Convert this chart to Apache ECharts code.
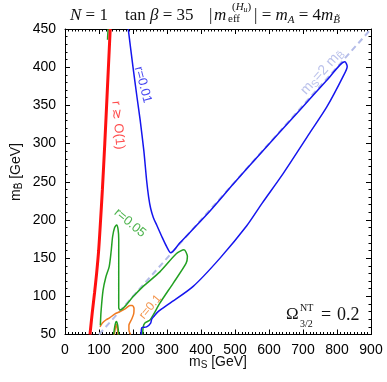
<!DOCTYPE html>
<html><head><meta charset="utf-8">
<script src="https://cdn.jsdelivr.net/npm/echarts@6/dist/echarts.min.js"></script>
<style>html,body{margin:0;padding:0;background:#fff}#c{width:387px;height:382px}</style>
</head><body><div id="c"></div>
<script>
// ---- data (GeV) ----
const xTicks=[0,100,200,300,400,500,600,700,800,900];
const yTicks=[50,100,150,200,250,300,350,400,450];

const redBoundary=[[73.5,50],[80,78],[87,105],[93,130],[99,160],[104,195],[110,240],[117,300],[124.5,370],[133,450]];
const greenEdge=[[125,436],[126.8,450]];
const r001=[[186,450],[200,400],[212,360],[221,331],[232,290],[240,252],[246,230],[252,215],[260,203],[270,193],[285,178],[299,165],[311,157],[338,170],[417,207],[495,247],[573,286],[691,344],[770,383],[809,403],[823,407],[830,401],[818,388],[770,348],[720,314],[642,261],[580,222],[534,192],[456,150],[377,113],[309,91],[274,80],[262,74],[255,70],[252,65],[240,60],[226,59],[224,50]];
const r005=[[104,62],[106,80],[112,108],[120,125],[130,139],[136,160],[140,178],[146,190],[152,193.5],[156,188],[158,175],[158,120],[158,85],[162,82],[201,100],[230,113],[279,132],[328,156],[350,161],[360,152],[356,143],[318,117],[279,91],[260,76],[250,69],[235,65],[230,60],[228.5,50]];
const r005b=[[143,50],[147,62],[151,67],[155,62],[158,50]];
const r01=[[103,60],[110,65],[120,69],[132,72],[147,77],[162,80],[178,84],[191,88],[198,88],[203,84],[202,77],[196,70],[188,62],[188,56],[193,50]];
const r01b=[[145,50],[149,60],[151,63],[154,58],[156,50]];
const ms2mb=[[100,50],[900,450]];

const SANS='Liberation Sans, Arial, sans-serif';
const SERIF='Liberation Serif, Times New Roman, serif';

const chart=echarts.init(document.getElementById('c'),null,{renderer:'canvas'});

function axisCommon(showLabel){
  return {
    type:'value',
    axisLine:{show:true,onZero:false,lineStyle:{color:'#000',width:1}},
    axisTick:{show:true,inside:true,length:5,lineStyle:{color:'#000',width:1}},
    minorTick:{show:true,length:2.5,lineStyle:{color:'#000',width:1}},
    splitLine:{show:false},
    axisLabel:{show:showLabel,color:'#000',fontSize:14,fontFamily:SANS}
  };
}
const xMin=xTicks[0], xMax=xTicks[xTicks.length-1], xInt=xTicks[1]-xTicks[0];
const yMin=yTicks[0], yMax=yTicks[yTicks.length-1], yInt=yTicks[1]-yTicks[0];

const xA=[
  Object.assign(axisCommon(true),{position:'bottom',min:xMin,max:xMax,interval:xInt}),
  Object.assign(axisCommon(false),{position:'top',min:xMin,max:xMax,interval:xInt})
];
xA[0].axisLabel.margin=9; xA[0].minorTick.splitNumber=10; xA[1].minorTick.splitNumber=10;
const yA=[
  Object.assign(axisCommon(true),{position:'left',min:yMin,max:yMax,interval:yInt}),
  Object.assign(axisCommon(false),{position:'right',min:yMin,max:yMax,interval:yInt})
];
yA[0].axisLabel.margin=9; yA[0].minorTick.splitNumber=5; yA[1].minorTick.splitNumber=5;

function lineSeries(data,color,width,z,extra){
  return Object.assign({type:'line',data:data,showSymbol:false,symbol:'none',smooth:0.25,
    lineStyle:{color:color,width:width},z:z,animation:false,silent:true},extra||{});
}

const subRich=(fs)=>({
  n:{fontSize:fs,fontFamily:SANS},
  s:{fontSize:Math.round(fs*0.72),fontFamily:SANS,padding:[Math.round(fs*0.5),0,0,0]}
});

const annotations=[
  {value:[229,377],rotate:-75,color:'#1515ee',text:'r=0.01',fs:13},
  {value:[156,324],rotate:-85,color:'#ff2020',text:'r ≳ O(1)',fs:13},
  {value:[191,196],rotate:-40,color:'#22a022',text:'r=0.05',fs:13},
  {value:[251,86],rotate:50,color:'#f07a20',text:'r=0.1',fs:12},
  {value:[756,394],rotate:48,color:'#aab3e6',text:'{n|m}{s|S}{n|=2 m}{s|B̃}',fs:14}
];

const T='#111';
const it=(fs)=>({fontStyle:'italic',fontSize:fs,fontFamily:SERIF,color:T});
const option={
  animation:false,
  backgroundColor:'#fff',
  grid:{left:65,right:16,top:29,bottom:47.5,containLabel:false},
  xAxis:xA, yAxis:yA,
  series:[
    lineSeries(ms2mb,'#b4bce8',2,1,{smooth:false,lineStyle:{color:'#b4bce8',width:2,type:[6,4]}}),
    lineSeries(r01,'#f07a20',1.5,3),
    lineSeries(r01b,'#f07a20',1.5,3),
    lineSeries(r005,'#22a022',1.5,4),
    lineSeries(r005b,'#22a022',1.5,4),
    lineSeries(greenEdge,'#22a022',1.5,4,{smooth:false}),
    lineSeries(r001,'#1515ee',1.5,5),
    lineSeries(redBoundary,'#ff1010',3,6),
    {type:'scatter',symbolSize:0,z:7,silent:true,animation:false,
      data:annotations.map(a=>({value:a.value,label:{show:true,position:'inside',rotate:a.rotate,
        color:a.color,fontSize:a.fs,fontFamily:SANS,formatter:a.text,rich:(()=>{const r=subRich(a.fs);r.n.color=a.color;r.s.color=a.color;return r;})()}}))}
  ],
  graphic:[
    {type:'text',x:70,y:16,style:{text:'{i|N} = 1',fill:T,font:'17px '+SERIF,verticalAlign:'middle',rich:{i:it(17)}}},
    {type:'text',x:125,y:16,style:{text:'tan {i|β} = 35',fill:T,font:'17px '+SERIF,verticalAlign:'middle',rich:{i:it(17)}}},
    {type:'text',x:209,y:16,style:{text:'|',fill:T,font:'17px '+SERIF,verticalAlign:'middle'}},
    {type:'text',x:214,y:16,style:{text:'m',fill:T,font:'italic 17px '+SERIF,verticalAlign:'middle'}},
    {type:'text',x:228,y:19.5,style:{text:'eff',fill:T,font:'11px '+SERIF,verticalAlign:'middle'}},
    {type:'text',x:232,y:7,style:{text:'({i|H}{s|u})',fill:T,font:'11px '+SERIF,verticalAlign:'middle',
      rich:{i:it(11),s:Object.assign(it(8),{padding:[5,0,0,0]})}}},
    {type:'text',x:254,y:16,style:{text:'| = {i|m}{s|A} = 4{i|m}{s|B̃}',fill:T,font:'17px '+SERIF,verticalAlign:'middle',
      rich:{i:it(17),s:Object.assign(it(11),{padding:[9,0,0,0]})}}},
    {type:'text',x:286,y:315,style:{text:'Ω',fill:T,font:'17px '+SERIF,verticalAlign:'middle'}},
    {type:'text',x:300,y:308,style:{text:'NT',fill:T,font:'10px '+SERIF,verticalAlign:'middle'}},
    {type:'text',x:300,y:324,style:{text:'3/2',fill:T,font:'10px '+SERIF,verticalAlign:'middle'}},
    {type:'text',x:321,y:315,style:{text:'=',fill:T,font:'18px '+SERIF,verticalAlign:'middle'}},
    {type:'text',x:337,y:315,style:{text:'0.2',fill:T,font:'18px '+SERIF,verticalAlign:'middle'}},
    {type:'text',x:218,y:362,style:{text:'m{s|S} [GeV]',fill:T,font:'14px '+SANS,align:'center',verticalAlign:'middle',
      rich:{s:{fontSize:10,fontFamily:SANS,color:T,padding:[7,0,0,0]}}}},
    {type:'text',x:16,y:172,rotation:Math.PI/2,style:{text:'m{s|B̃} [GeV]',fill:T,font:'14px '+SANS,align:'center',verticalAlign:'middle',
      rich:{s:{fontSize:10,fontFamily:SANS,color:T,padding:[7,0,0,0]}}}}
  ]
};
chart.setOption(option);
</script></body></html>
